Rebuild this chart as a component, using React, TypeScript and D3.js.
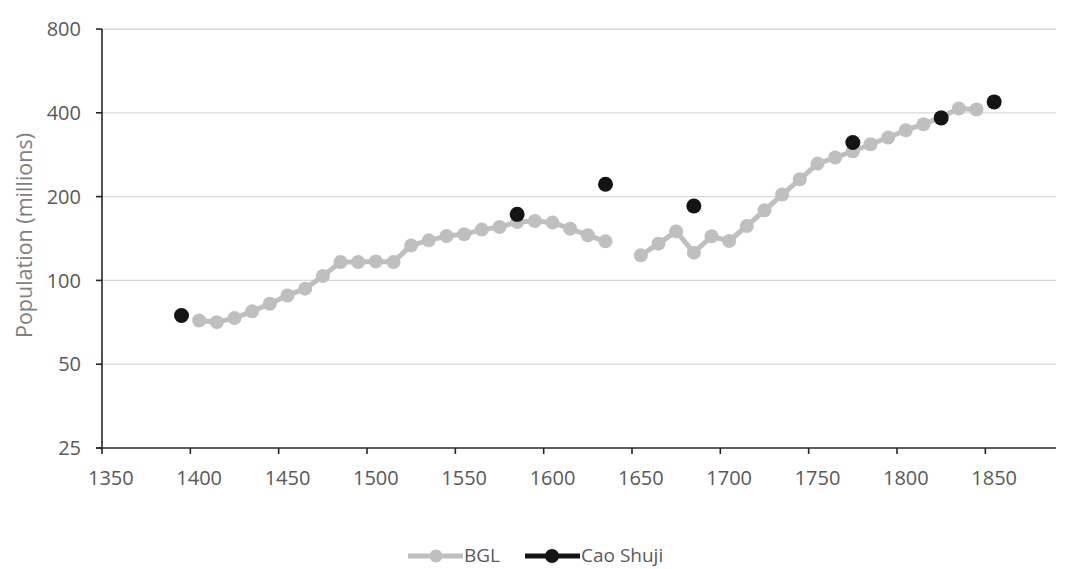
import * as d3 from 'd3';

const W = 1080;
const H = 569;
const M = { top: 29, right: 24, bottom: 121, left: 102 };

const FONT = '"Open Sans", sans-serif';
const BGL_COLOR = '#bfbfbf';
const CAO_COLOR = '#141414';
const LABEL_COLOR = '#595959';

// BGL series, split where the source has no estimate (1640).
const bglYearsA = [1400, 1410, 1420, 1430, 1440, 1450, 1460, 1470, 1480, 1490, 1500, 1510, 1520, 1530, 1540, 1550, 1560, 1570, 1580, 1590, 1600, 1610, 1620, 1630];
const bglValuesA = [71.8, 70.8, 73.2, 77.4, 82.4, 88.3, 93.4, 103.6, 116.4, 116.4, 117, 116.5, 133.6, 139.3, 144.3, 146.4, 152.2, 155.5, 162, 163.5, 161.3, 153.4, 145.2, 138.1];
const bglYearsB = [1650, 1660, 1670, 1680, 1690, 1700, 1710, 1720, 1730, 1740, 1750, 1760, 1770, 1780, 1790, 1800, 1810, 1820, 1830, 1840];
const bglValuesB = [123, 135.5, 150, 125.8, 144, 138.5, 156.8, 178.5, 203.4, 230.8, 262.8, 276.3, 291, 308.5, 326, 346.4, 364, 386, 414.5, 411];

const caoYears = [1390, 1580, 1630, 1680, 1770, 1820, 1850];
const caoValues = [74.8, 172.7, 221.5, 185, 313, 383.5, 437.8];

const xTicks = [1350, 1400, 1450, 1500, 1550, 1600, 1650, 1700, 1750, 1800, 1850];
const yTicks = [25, 50, 100, 200, 400, 800];

// tick marks sit half a decade before each label
const TICK_SHIFT = 5;

type Pt = { year: number; value: number };
const zip = (ys: number[], vs: number[]): Pt[] => ys.map((year, i) => ({ year, value: vs[i] }));

export default function App() {
  const innerW = W - M.left - M.right;
  const innerH = H - M.top - M.bottom;

  const x = d3.scaleLinear().domain([1345, 1885]).range([0, innerW]);
  const y = d3.scaleLog().base(2).domain([25, 800]).range([innerH, 0]);

  const line = d3
    .line<Pt>()
    .x((d) => x(d.year))
    .y((d) => y(d.value));

  const segments = [zip(bglYearsA, bglValuesA), zip(bglYearsB, bglValuesB)];
  const cao = zip(caoYears, caoValues);

  const legendY = 556 - M.top;

  return (
    <svg
      width={W}
      height={H}
      style={{ position: 'absolute', left: 0, top: 0, background: '#fff', display: 'block' }}
    >
      <g transform={`translate(${M.left},${M.top})`}>
        {/* grid */}
        {yTicks.slice(1).map((t) => (
          <line key={t} x1={0} x2={innerW} y1={y(t)} y2={y(t)} stroke="#d9d9d9" strokeWidth={1.3} />
        ))}

        {/* axes */}
        <line x1={0} x2={0} y1={0} y2={innerH} stroke="#262626" strokeWidth={1.6} />
        <line x1={-6} x2={innerW} y1={innerH} y2={innerH} stroke="#262626" strokeWidth={1.6} />
        {yTicks.map((t) => (
          <g key={t}>
            <line x1={-6} x2={0} y1={y(t)} y2={y(t)} stroke="#262626" strokeWidth={1.6} />
            <text
              x={-21}
              y={y(t)}
              dy="0.36em"
              textAnchor="end"
              fill={LABEL_COLOR}
              fontSize={20}
              fontFamily={FONT}
            >
              {t}
            </text>
          </g>
        ))}
        {xTicks.map((t) => (
          <g key={t}>
            <line
              x1={x(t - TICK_SHIFT)}
              x2={x(t - TICK_SHIFT)}
              y1={innerH}
              y2={innerH + 6}
              stroke="#262626"
              strokeWidth={1.6}
            />
            <text
              x={x(t)}
              y={innerH + 37}
              textAnchor="middle"
              fill={LABEL_COLOR}
              fontSize={20}
              fontFamily={FONT}
            >
              {t}
            </text>
          </g>
        ))}

        <text
          transform={`translate(${24 - M.left},${innerH / 2 - 3}) rotate(-90)`}
          dy="0.36em"
          textAnchor="middle"
          fill="#7f7f7f"
          fontSize={21.5}
          fontFamily={FONT}
        >
          Population (millions)
        </text>

        {/* BGL */}
        {segments.map((seg, i) => (
          <path
            key={i}
            d={line(seg) ?? ''}
            fill="none"
            stroke={BGL_COLOR}
            strokeWidth={5}
            strokeLinejoin="round"
          />
        ))}
        {segments.flat().map((d) => (
          <circle key={`b${d.year}`} cx={x(d.year)} cy={y(d.value)} r={7} fill={BGL_COLOR} />
        ))}

        {/* Cao Shuji */}
        {cao.map((d) => (
          <circle key={`c${d.year}`} cx={x(d.year)} cy={y(d.value)} r={7.5} fill={CAO_COLOR} />
        ))}

        {/* legend */}
        <g transform={`translate(${408 - M.left},${legendY})`}>
          <line x1={0} x2={55} y1={0} y2={0} stroke={BGL_COLOR} strokeWidth={5} />
          <circle cx={28} cy={0} r={6.5} fill={BGL_COLOR} />
          <text x={56} y={0} dy="0.3em" fill={LABEL_COLOR} fontSize={19} fontFamily={FONT}>
            BGL
          </text>
          <line x1={117} x2={172} y1={0} y2={0} stroke={CAO_COLOR} strokeWidth={5} />
          <circle cx={144} cy={0} r={7} fill={CAO_COLOR} />
          <text x={173} y={0} dy="0.3em" fill={LABEL_COLOR} fontSize={19} fontFamily={FONT}>
            Cao Shuji
          </text>
        </g>
      </g>
    </svg>
  );
}
